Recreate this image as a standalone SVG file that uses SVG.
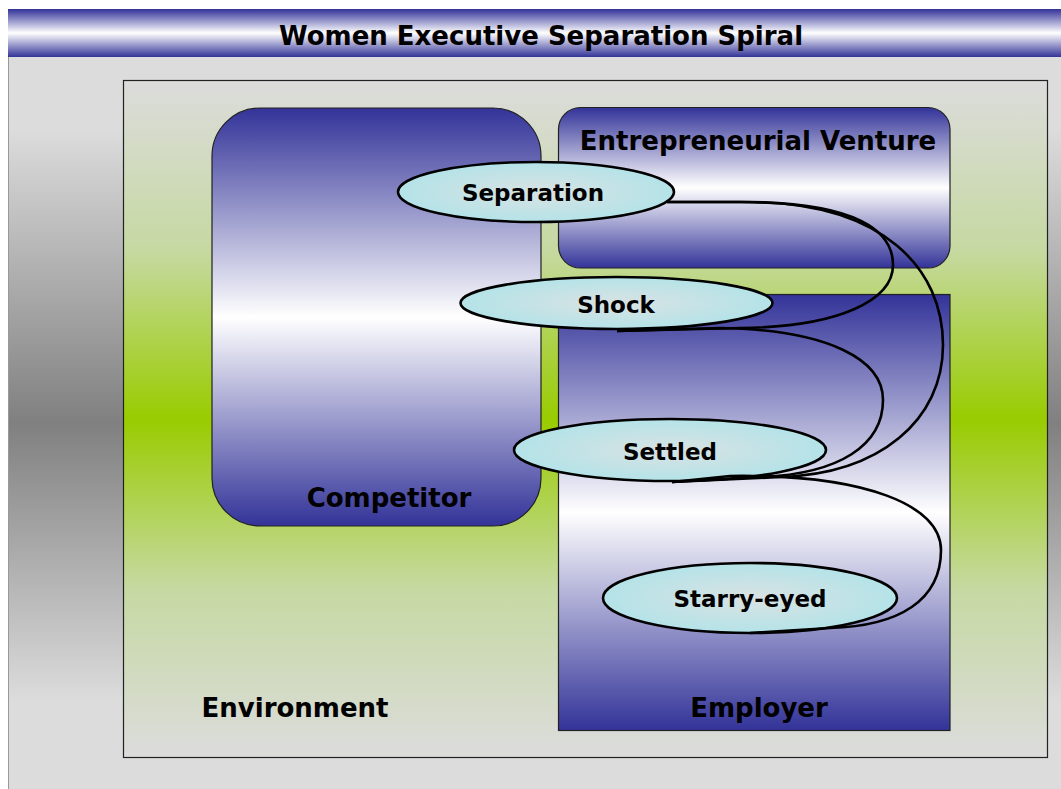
<svg xmlns="http://www.w3.org/2000/svg" width="1061" height="789" viewBox="0 0 1061 789">
<defs>
<linearGradient id="gPanel" x1="0" y1="0" x2="0" y2="1">
<stop offset="0" stop-color="#dcdcdc"/><stop offset="0.1" stop-color="#dcdcdc"/><stop offset="0.5" stop-color="#808080"/><stop offset="0.88" stop-color="#dcdcdc"/><stop offset="1" stop-color="#dcdcdc"/>
</linearGradient>
<linearGradient id="gEnv" x1="0" y1="0" x2="0" y2="1">
<stop offset="0" stop-color="#dcdcdc"/><stop offset="0.25" stop-color="#c6d9a2"/><stop offset="0.5" stop-color="#99cc00"/><stop offset="0.75" stop-color="#c6d9a2"/><stop offset="1" stop-color="#dcdcdc"/>
</linearGradient>
<linearGradient id="gBlue" x1="0" y1="0" x2="0" y2="1">
<stop offset="0" stop-color="#333399"/><stop offset="0.5" stop-color="#ffffff"/><stop offset="1" stop-color="#333399"/>
</linearGradient>
<radialGradient id="gEll" cx="0.5" cy="0.5" r="0.5">
<stop offset="0" stop-color="#d9e2e3"/><stop offset="1" stop-color="#b4e3e8"/>
</radialGradient>
<style>
.box{stroke:#222;stroke-width:1.2}
.ell{fill:url(#gEll);stroke:#000;stroke-width:2.6}
.big{font-family:"DejaVu Sans",Verdana,sans-serif;font-weight:bold;font-size:26px;fill:#000;text-anchor:middle}
.lbl{font-family:"DejaVu Sans",Verdana,sans-serif;font-weight:bold;font-size:23px;fill:#000;text-anchor:middle}
.cur{fill:none;stroke:#000;stroke-width:2.6}
</style>
</defs>
<rect x="0" y="0" width="1061" height="789" fill="#ffffff"/>
<g id="background">
<rect x="8" y="57" width="1053" height="732" fill="url(#gPanel)"/>
<line x1="8.5" y1="57" x2="8.5" y2="789" stroke="#999" stroke-width="1"/>
</g>
<g id="title">
<rect x="8" y="9" width="1053" height="48" fill="url(#gBlue)"/>
<text class="big" x="541" y="45">Women Executive Separation Spiral</text>
</g>
<g id="environment">
<rect class="box" x="123.5" y="80.5" width="924" height="677" fill="url(#gEnv)"/>
<text class="big" x="295" y="717">Environment</text>
</g>
<g id="competitor">
<rect class="box" x="212" y="108" width="329" height="418" rx="48" ry="48" fill="url(#gBlue)"/>
<text class="big" x="389" y="507">Competitor</text>
</g>
<g id="venture">
<rect class="box" x="558.5" y="107.5" width="391.5" height="160.5" rx="22" ry="22" fill="url(#gBlue)"/>
<text class="big" x="758" y="150">Entrepreneurial Venture</text>
</g>
<g id="employer">
<rect class="box" x="558.5" y="294.5" width="391.5" height="436" fill="url(#gBlue)"/>
<text class="big" x="759" y="717">Employer</text>
</g>
<g id="separation">
<ellipse class="ell" cx="536" cy="192" rx="138" ry="30"/>
<text class="lbl" x="533" y="201">Separation</text>
</g>
<g id="shock">
<ellipse class="ell" cx="616.5" cy="303" rx="156" ry="26"/>
<text class="lbl" x="616" y="313">Shock</text>
</g>
<g id="settled">
<ellipse class="ell" cx="670" cy="450" rx="156" ry="31"/>
<text class="lbl" x="670" y="460">Settled</text>
</g>
<g id="starry">
<ellipse class="ell" cx="750" cy="598" rx="147" ry="35"/>
<text class="lbl" x="750" y="607">Starry-eyed</text>
</g>
<g id="connectors">
<path class="cur" d="M667,202 L740,202 C860,202 893,232 893,265 C893,300 840,327 740,328 L617,331"/>
<path class="cur" d="M667,202 L750,202 C885,203 943,270 943,345 C943,420 880,474 780,477 L672,482"/>
<path class="cur" d="M617,331 L720,328 C830,330 883,360 883,400 C883,445 840,474 760,477 L672,482"/>
<path class="cur" d="M672,482 L730,476 C865,474 941,505 941,550 C941,600 900,626 830,628 L750,633"/>
</g>
</svg>
